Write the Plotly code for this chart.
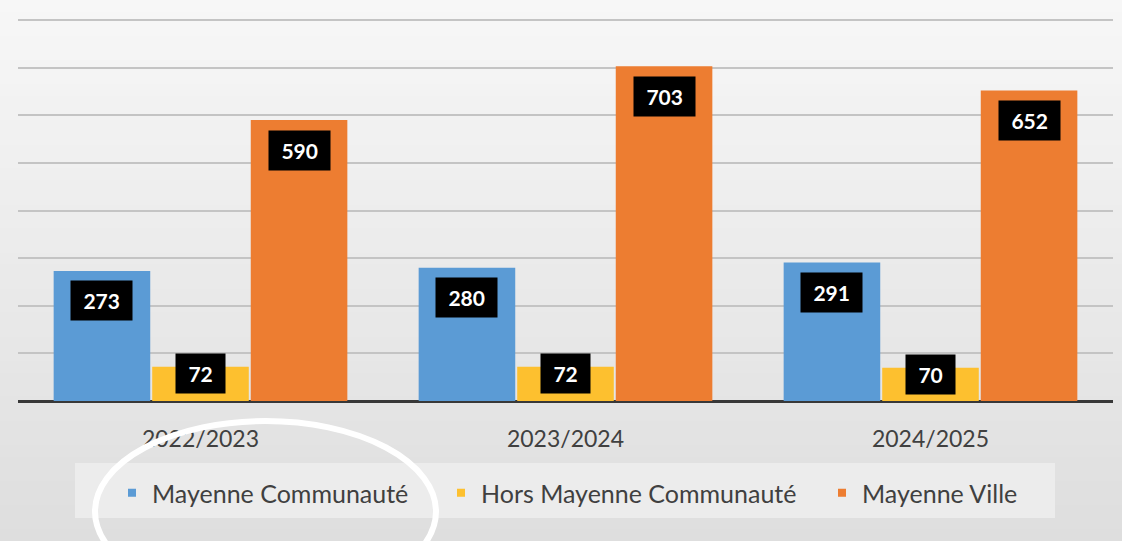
import plotly.graph_objects as go

categories = ["2022/2023", "2023/2024", "2024/2025"]
series_names = ["Mayenne Communauté", "Hors Mayenne Communauté", "Mayenne Ville"]
mayenne_communaute = [273, 280, 291]
hors_mayenne = [72, 72, 70]
mayenne_ville = [590, 703, 652]
colors = ["#5b9bd5", "#fdc02f", "#ed7d31"]

all_series = [mayenne_communaute, hors_mayenne, mayenne_ville]

W, H = 1122, 541
ML, MR, MT, MB = 18, 9, 15, 140
PW, PH = W - ML - MR, H - MT - MB
YMAX = 810.5


def px2paper(px, py):
    return (px - ML) / PW, (H - MB - py) / PH


fig = go.Figure()
legend_ids = ["legend", "legend2", "legend3"]
for name, vals, col, lid in zip(series_names, all_series, colors, legend_ids):
    fig.add_trace(go.Bar(name=name, x=categories, y=vals, marker=dict(color=col, line=dict(width=0)),
                         offsetgroup=name, showlegend=False))
    # legend proxy with small square marker
    fig.add_trace(go.Scatter(name=name, x=[None], y=[None], mode="markers",
                             marker=dict(symbol="square", size=8, color=col),
                             showlegend=True, legend=lid))

annotations = []
n = len(all_series)
bargap = 0.19
groupgap = 0.02
group_w = 1 - bargap
for si, vals in enumerate(all_series):
    for ci, v in enumerate(vals):
        off = -group_w / 2 + group_w / n * (si + 0.5)
        annotations.append(dict(
            x=ci + off, y=v, xref="x", yref="y",
            text="&nbsp;<b>%d</b>&nbsp;" % v, showarrow=False,
            font=dict(color="white", size=21, family="Lato, Open Sans, sans-serif"),
            bgcolor="black", borderpad=7,
            yanchor="middle", yshift=-30 if v > 150 else -7,
        ))

shapes = []
top = (247, 247, 247)
bot = (222, 222, 222)
N = 45
for i in range(N):
    t = i / (N - 1)
    c = tuple(int(round(top[k] + (bot[k] - top[k]) * t)) for k in range(3))
    y_hi = i * H / N
    y_lo = (i + 1) * H / N + 1
    _, p1 = px2paper(0, y_hi)
    _, p0 = px2paper(0, y_lo)
    shapes.append(dict(type="rect", xref="paper", yref="paper", layer="below",
                       x0=-0.05, x1=1.05, y0=p0, y1=p1,
                       fillcolor="rgb(%d,%d,%d)" % c, line=dict(width=0)))
# legend box
lx0, ly0 = px2paper(75, 518)
lx1, ly1 = px2paper(1055, 463)
shapes.append(dict(type="rect", xref="paper", yref="paper", layer="below",
                   x0=lx0, x1=lx1, y0=ly0, y1=ly1,
                   fillcolor="#ececec", line=dict(width=0)))
# white hand-drawn ellipse
ex0, ey0 = px2paper(95, 602)
ex1, ey1 = px2paper(436, 421)
shapes.append(dict(type="circle", xref="paper", yref="paper", layer="above",
                   x0=ex0, x1=ex1, y0=ey0, y1=ey1,
                   line=dict(color="white", width=6)))

_, leg_y = px2paper(0, 493)
legend_px = [112, 441, 822]
leg_common = dict(orientation="h", xanchor="left", y=leg_y, yanchor="middle",
                  font=dict(size=25, color="#404040"), bgcolor="rgba(0,0,0,0)",
                  itemwidth=30)

legends = {}
for lid, lpx in zip(legend_ids, legend_px):
    lx, _ = px2paper(lpx, 0)
    legends[lid] = dict(x=lx, **leg_common)

fig.update_layout(
    width=W, height=H,
    margin=dict(l=ML, r=MR, t=MT, b=MB, autoexpand=False),
    paper_bgcolor="#ececec", plot_bgcolor="rgba(0,0,0,0)",
    barmode="group", bargap=bargap, bargroupgap=groupgap,
    font=dict(family="Lato, Open Sans, sans-serif", color="#404040"),
    showlegend=True,
    xaxis=dict(showgrid=False, tickfont=dict(size=23, color="#404040"),
               ticklabelstandoff=22, showline=False, zeroline=False, automargin=False),
    yaxis=dict(range=[0, YMAX], dtick=100, showticklabels=False, showgrid=True,
               gridcolor="#c4c4c4", gridwidth=2, zeroline=True, zerolinecolor="#383838",
               zerolinewidth=3, showline=False, automargin=False),
    annotations=annotations, shapes=shapes,
    **legends,
)

fig.write_html("out.html", config={"displayModeBar": False},
               post_script="document.body.style.margin='0';document.body.style.overflow='hidden';")
